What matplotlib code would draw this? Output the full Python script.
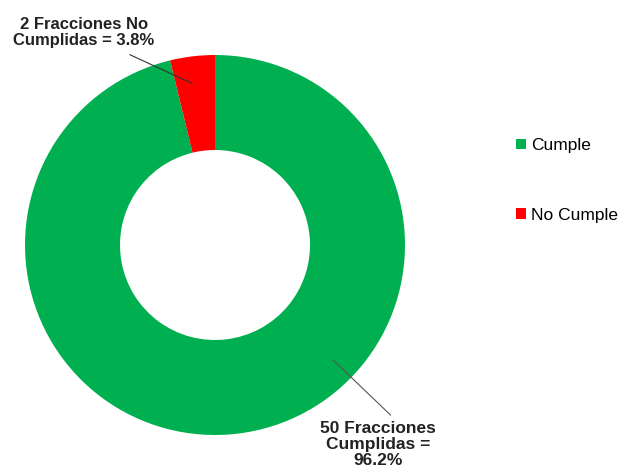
import matplotlib
matplotlib.use('Agg')
import matplotlib.pyplot as plt
from matplotlib.patches import Patch

categories = ['Cumple', 'No Cumple']
values = [96.2, 3.8]
colors = ['#00B050', '#FF0000']
labels_txt = ['50 Fracciones\nCumplidas =\n96.2%', '2 Fracciones No\nCumplidas = 3.8%']

plt.rcParams['font.family'] = ['Liberation Sans', 'DejaVu Sans']

fig = plt.figure(figsize=(6.18, 4.72), dpi=100)
ax = fig.add_axes([25 / 618, 37 / 472, 380 / 618, 380 / 472])
ax.pie(values, colors=colors, startangle=90, counterclock=False,
       wedgeprops=dict(width=0.5, edgecolor='none'), radius=1)
ax.set_xlim(-1, 1)
ax.set_ylim(-1, 1)
ax.set_aspect('equal')

ax.annotate(labels_txt[1], xy=(-0.12, 0.85), xytext=(-0.69, 1.12),
            ha='center', va='center', fontsize=12, fontweight='bold', color='#222222',
            annotation_clip=False, linespacing=1.1,
            arrowprops=dict(arrowstyle='-', color='#333333', lw=0.8,
                            shrinkA=7, shrinkB=0, relpos=(0.72, 0.0)))
ax.annotate(labels_txt[0], xy=(0.621, -0.605), xytext=(0.858, -1.05),
            ha='center', va='center', fontsize=12.5, fontweight='bold', color='#222222',
            annotation_clip=False, linespacing=1.1,
            arrowprops=dict(arrowstyle='-', color='#555555', lw=0.8,
                            shrinkA=3, shrinkB=0, relpos=(0.66, 1.0)))

handles = [Patch(facecolor=c, edgecolor='none') for c in colors]
fig.legend(handles, categories, loc='center left', bbox_to_anchor=(0.81, 0.618),
           frameon=False, fontsize=12.5, handlelength=0.55, handleheight=0.55,
           handletextpad=0.3, labelspacing=3.15)

fig.savefig('out.png', dpi=100)
